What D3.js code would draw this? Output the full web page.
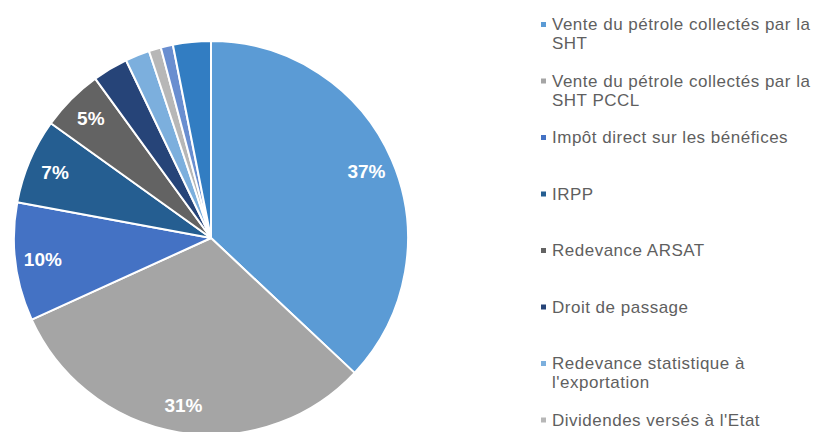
<!DOCTYPE html>
<html>
<head>
<meta charset="utf-8">
<script src="https://cdn.jsdelivr.net/npm/d3@7"></script>
<style>
  body { margin: 0; background: #fff; }
  svg { display: block; font-family: "Liberation Sans", Arial, sans-serif; }
</style>
</head>
<body>
<div id="chart-area"></div>
<script>
// slice shares (%), clockwise from 12 o'clock
const values = [37.0, 31.2, 9.7, 7.0, 5.1, 2.9, 2.0, 1.0, 1.0, 3.1];
const colors = ["#5B9BD5", "#A5A5A5", "#4472C4", "#255E91", "#636363",
                "#264478", "#7CAFDD", "#B7B7B7", "#698ED0", "#327DC2"];
// legend entries visible in the picture
const categories = [
  "Vente du pétrole collectés par la SHT",
  "Vente du pétrole collectés par la SHT PCCL",
  "Impôt direct sur les bénéfices",
  "IRPP",
  "Redevance ARSAT",
  "Droit de passage",
  "Redevance statistique à l'exportation",
  "Dividendes versés à l'Etat"
];

const width = 820, height = 432;
const cx = 211, cy = 238, radius = 197;

const svg = d3.select("#chart-area")
  .append("svg")
  .attr("width", width)
  .attr("height", height);

const g = svg.append("g")
  .attr("transform", `translate(${cx}, ${cy})`);

const pie = d3.pie().sort(null).value(d => d);
const arcs = pie(values);

const arc = d3.arc().innerRadius(0).outerRadius(radius);
const labelArc = d3.arc().innerRadius(radius * 0.86).outerRadius(radius * 0.86);

g.selectAll("path")
  .data(arcs)
  .enter()
  .append("path")
  .attr("d", arc)
  .attr("fill", (d, i) => colors[i])
  .attr("stroke", "#fff")
  .attr("stroke-width", 2)
  .attr("stroke-linejoin", "round");

g.selectAll("text.lbl")
  .data(arcs.filter(d => d.data >= 5))
  .enter()
  .append("text")
  .attr("class", "lbl")
  .attr("transform", d => `translate(${labelArc.centroid(d)})`)
  .attr("text-anchor", "middle")
  .attr("dy", "0.36em")
  .attr("fill", "#fff")
  .attr("font-size", "19px")
  .attr("font-weight", "bold")
  .text(d => Math.round(d.data) + "%");

// legend
const legendX = 541, textX = 552, maxW = 264;
const firstBase = 30, step = 56.5, lineH = 19;

const legend = svg.append("g");

categories.forEach((c, i) => {
  const y0 = firstBase + i * step;
  legend.append("rect")
    .attr("x", legendX)
    .attr("y", y0 - 8)
    .attr("width", 5)
    .attr("height", 5)
    .attr("fill", colors[i]);

  const t = legend.append("text")
    .attr("x", textX)
    .attr("y", y0)
    .attr("fill", "#5f5f5f")
    .attr("font-size", "17px")
    .attr("letter-spacing", "0.5px");

  // simple word wrap
  const words = c.split(" ");
  let line = [];
  let tspan = t.append("tspan").attr("x", textX).attr("y", y0);
  let n = 0;
  words.forEach(w => {
    line.push(w);
    tspan.text(line.join(" "));
    if (tspan.node().getComputedTextLength() > maxW && line.length > 1) {
      line.pop();
      tspan.text(line.join(" "));
      line = [w];
      n++;
      tspan = t.append("tspan").attr("x", textX).attr("y", y0 + n * lineH).text(w);
    }
  });
});
</script>
</body>
</html>
